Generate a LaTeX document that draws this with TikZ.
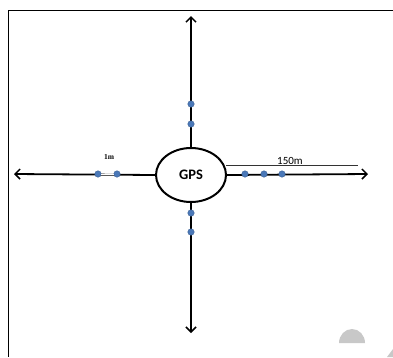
\documentclass[tikz,border=0pt]{standalone}
\usepackage{fontspec}
\setmainfont{Carlito}
\newfontfamily\serifb{Liberation Serif}
\usetikzlibrary{arrows.meta,shapes.geometric}
\definecolor{dotblue}{HTML}{4A78B8}
\definecolor{curl}{HTML}{C8C8C8}
\tikzset{
  axis/.style={line width=1.8pt,-{Straight Barb[length=5pt,width=10pt,line width=1.5pt]}},
  gpsnode/.style={ellipse,draw,line width=2pt,minimum width=70pt,minimum height=54pt,inner sep=0pt,font=\bfseries\fontsize{14.5}{16}\selectfont},
  bdot/.style={circle,fill=dotblue,draw=dotblue!80!black,line width=0.4pt,minimum size=6.5pt,inner sep=0pt},
  frameline/.style={line width=0.9pt},
}
\begin{document}
\begin{tikzpicture}[x=1pt,y=-1pt]
\useasboundingbox (0,0) rectangle (393,357);
% frame
\coordinate (ftr) at (393,10.5);
\coordinate (ftl) at (8.5,10.5);
\coordinate (fbl) at (8.5,357);
\draw[frameline] (ftr) -- (ftl) -- (fbl);
% page curl marks
\fill[curl] (339,343) arc[start angle=180,end angle=360,x radius=13,y radius=14] -- cycle;
\fill[curl] (387,357) -- (393,349) -- (393,357) -- cycle;
% center
\node[gpsnode] (gps) at (191,175) {GPS};
\coordinate (tT) at (191,16);
\coordinate (tB) at (191,333);
\coordinate (tL) at (14,174);
\coordinate (tR) at (368,174);
\draw[axis] (gps.north) -- (tT);
\draw[axis] (gps.south) -- (tB);
\draw[axis] (gps.west) -- (tL);
\draw[axis] (gps.east) -- (tR);
% 150m line
\coordinate (m1) at (226,165);
\coordinate (m2) at (358,165);
\draw[line width=0.6pt,black!80] (m1) -- (m2);
\node[font=\fontsize{11}{12}\selectfont,anchor=base] (l150) at (290,164.5) {150m};
% dots
\node[bdot] (u1) at (191,104) {};
\node[bdot] (u2) at (191,124) {};
\node[bdot] (d1) at (191,213) {};
\node[bdot] (d2) at (191,232) {};
\node[bdot] (r1) at (245,174) {};
\node[bdot] (r2) at (264,174) {};
\node[bdot] (r3) at (282,174) {};
\node[bdot] (lf1) at (98,174) {};
\node[bdot] (lf2) at (117,174) {};
\draw[white,line width=0.6pt] (lf1.east) -- (lf2.west);
\node[font=\serifb\bfseries\fontsize{7.5}{8}\selectfont] (l1m) at (109,157) {1m};
\end{tikzpicture}
\end{document}
